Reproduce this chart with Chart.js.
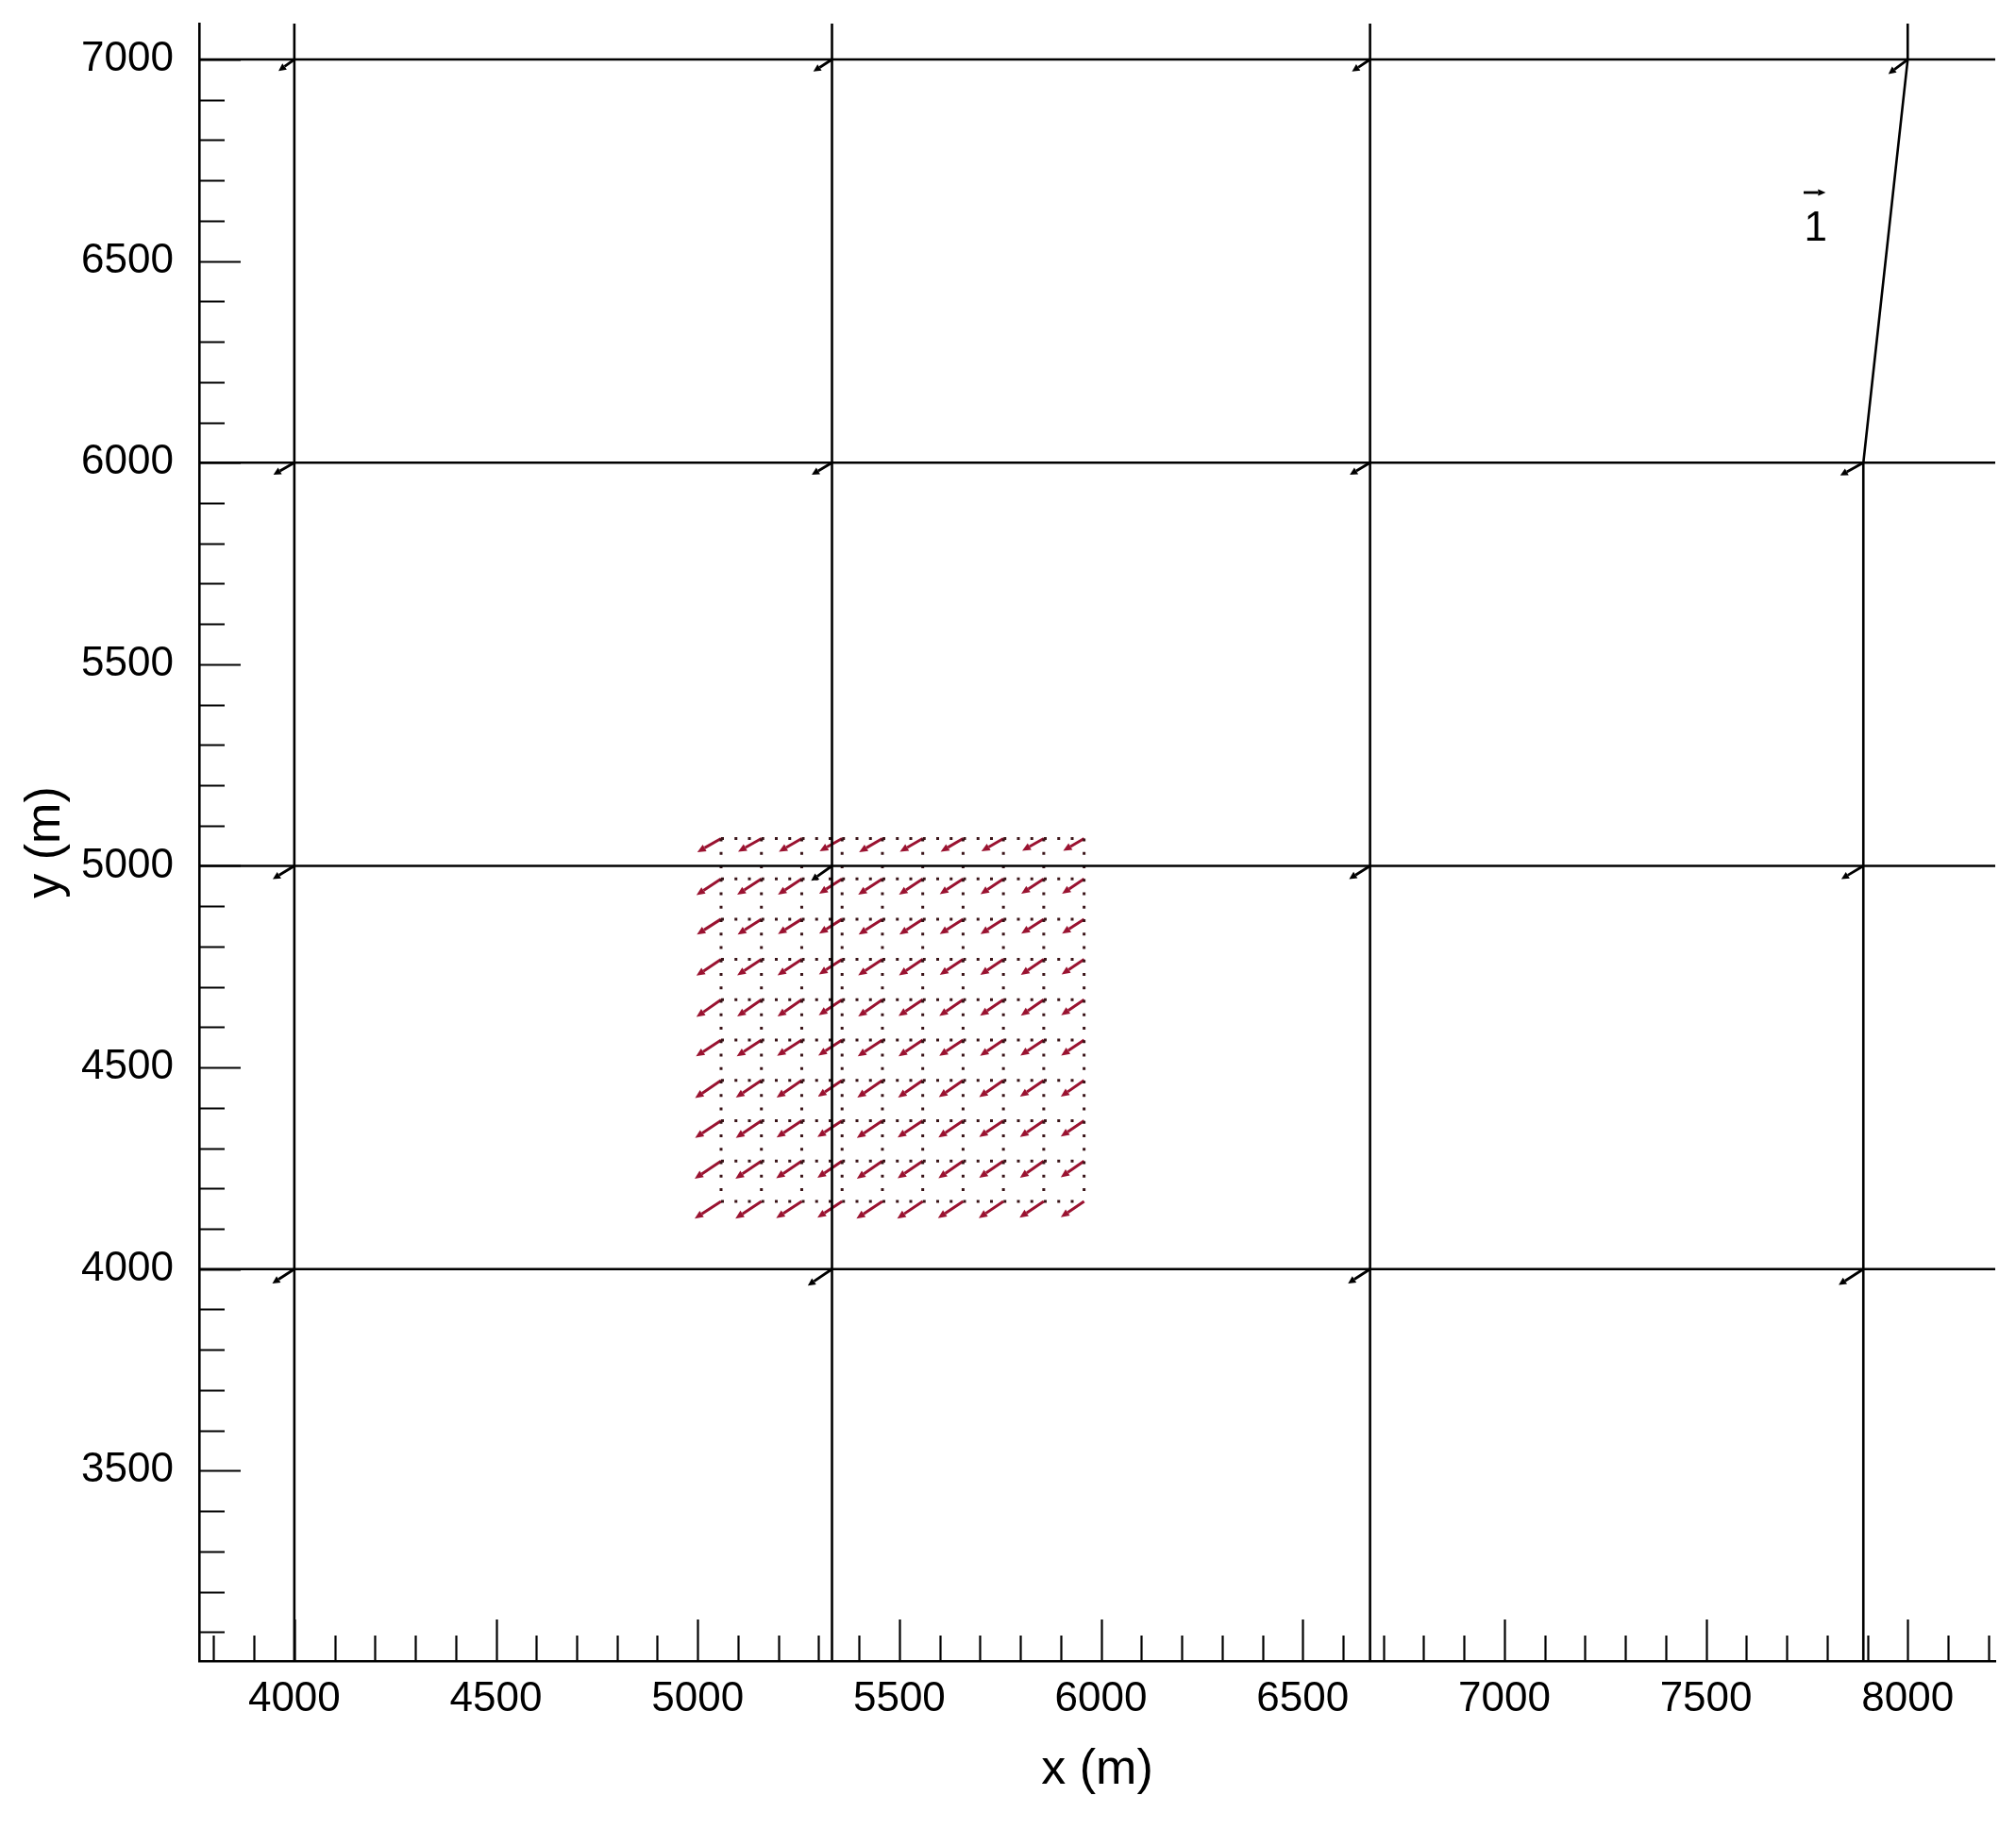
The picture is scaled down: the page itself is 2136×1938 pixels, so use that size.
<!DOCTYPE html>
<html>
<head>
<meta charset="utf-8">
<title>Velocity field</title>
<script src="https://cdn.jsdelivr.net/npm/chart.js@4.4.1/dist/chart.umd.min.js"></script>
<style>
  html, body { margin: 0; padding: 0; background: #fff; }
  #wrap { width: 2136px; height: 1938px; }
</style>
</head>
<body>
<div id="wrap"><canvas id="fieldChart" width="2136" height="1938"></canvas></div>
<script>
// axis ranges and labelled ticks
const xRange = [3764, 8217];
const yRange = [3028, 7089];
const xTickLabels = [4000, 4500, 5000, 5500, 6000, 6500, 7000, 7500, 8000];
const yTickLabels = [3500, 4000, 4500, 5000, 5500, 6000, 6500, 7000];
const minorStep = 100;

// coarse mesh
const meshLinesY = [4000, 5000, 6000, 7000];
const meshLinesX = [4000, 5333, 6667];
const edgeLineX = [7890, 7890, 8000, 8000];
const edgeLineY = [3028, 6000, 7000, 7089];

// coarse mesh nodes and their vectors
const nodeX = [4000, 5333, 6667, 8000, 4000, 5333, 6667, 7890, 4000, 5333, 6667, 7890, 4000, 5333, 6667, 7890];
const nodeY = [7000, 7000, 7000, 7000, 6000, 6000, 6000, 6000, 5000, 5000, 5000, 5000, 4000, 4000, 4000, 4000];
const nodeU = [-0.72, -0.85, -0.82, -0.88, -0.95, -0.92, -0.92, -1.05, -0.98, -0.95, -0.95, -1.00, -1.00, -1.10, -1.00, -1.12];
const nodeV = [-0.52, -0.55, -0.55, -0.66, -0.55, -0.55, -0.55, -0.58, -0.60, -0.68, -0.60, -0.60, -0.65, -0.75, -0.65, -0.72];

// fine (red) grid
const fineX = [5058, 5158, 5258, 5358, 5458, 5558, 5658, 5758, 5858, 5958];
const fineY = [5068, 4968, 4868, 4768, 4668, 4568, 4468, 4368, 4268, 4168];
const fineU = [
  [-1.08, -1.06, -1.04, -1.02, -1.06, -1.04, -1.02, -1.00, -0.98, -0.95],
  [-1.12, -1.10, -1.08, -1.04, -1.10, -1.08, -1.06, -1.04, -1.02, -1.00],
  [-1.10, -1.08, -1.08, -1.04, -1.08, -1.06, -1.06, -1.04, -1.02, -1.00],
  [-1.12, -1.10, -1.10, -1.05, -1.10, -1.08, -1.06, -1.05, -1.04, -1.02],
  [-1.12, -1.10, -1.10, -1.06, -1.10, -1.10, -1.08, -1.06, -1.04, -1.04],
  [-1.14, -1.12, -1.12, -1.08, -1.12, -1.10, -1.08, -1.06, -1.06, -1.04],
  [-1.18, -1.16, -1.14, -1.10, -1.14, -1.12, -1.10, -1.10, -1.08, -1.06],
  [-1.18, -1.16, -1.14, -1.12, -1.16, -1.14, -1.12, -1.10, -1.08, -1.06],
  [-1.20, -1.18, -1.16, -1.12, -1.16, -1.14, -1.12, -1.10, -1.08, -1.06],
  [-1.20, -1.18, -1.16, -1.12, -1.18, -1.16, -1.14, -1.12, -1.10, -1.06]
];
const fineV = [
  [-0.62, -0.60, -0.60, -0.58, -0.62, -0.60, -0.60, -0.58, -0.56, -0.56],
  [-0.74, -0.72, -0.72, -0.68, -0.72, -0.72, -0.70, -0.70, -0.68, -0.68],
  [-0.70, -0.70, -0.68, -0.66, -0.70, -0.70, -0.68, -0.68, -0.66, -0.66],
  [-0.74, -0.72, -0.72, -0.68, -0.72, -0.72, -0.70, -0.70, -0.70, -0.68],
  [-0.78, -0.76, -0.76, -0.70, -0.76, -0.74, -0.74, -0.72, -0.72, -0.70],
  [-0.74, -0.74, -0.72, -0.70, -0.74, -0.74, -0.72, -0.72, -0.70, -0.70],
  [-0.80, -0.78, -0.78, -0.74, -0.78, -0.78, -0.76, -0.76, -0.74, -0.74],
  [-0.78, -0.78, -0.76, -0.74, -0.78, -0.76, -0.76, -0.74, -0.74, -0.72],
  [-0.80, -0.80, -0.78, -0.76, -0.80, -0.78, -0.78, -0.76, -0.76, -0.74],
  [-0.78, -0.78, -0.76, -0.74, -0.78, -0.78, -0.76, -0.76, -0.74, -0.72]
];

// reference vector
const refX = [7742];
const refY = [6670];
const refU = [1];
const refV = [0];
const refLabel = "1";
const refLabelPos = [7772, 6578];
const unitLength = 54.6; // metres of arrow per unit

const FONT = "'Liberation Sans', Arial, Helvetica, sans-serif";

// build datasets
const datasets = [];

meshLinesY.forEach(v => {
    datasets.push({
        data: [{ x: xRange[0], y: v }, { x: xRange[1], y: v }],
        showLine: true, borderColor: "#000", borderWidth: 2.6, pointRadius: 0
    });
});
meshLinesX.forEach(v => {
    datasets.push({
        data: [{ x: v, y: yRange[0] }, { x: v, y: yRange[1] }],
        showLine: true, borderColor: "#000", borderWidth: 2.6, pointRadius: 0
    });
});
datasets.push({
    data: edgeLineX.map((v, i) => ({ x: v, y: edgeLineY[i] })),
    showLine: true, borderColor: "#000", borderWidth: 2.6, pointRadius: 0
});

// dotted fine mesh
fineY.forEach(v => {
    datasets.push({
        data: [{ x: fineX[0], y: v }, { x: fineX[fineX.length - 1], y: v }],
        showLine: true, borderColor: "#3a1418", borderWidth: 3,
        borderDash: [3, 11.25], pointRadius: 0, order: 5
    });
});
fineX.forEach(v => {
    datasets.push({
        data: [{ x: v, y: fineY[0] }, { x: v, y: fineY[fineY.length - 1] }],
        showLine: true, borderColor: "#3a1418", borderWidth: 3,
        borderDash: [3, 11.25], pointRadius: 0, order: 5
    });
});

// vector datasets (points hidden, arrows drawn by plugin)
const finePts = [], fineVec = [];
fineY.forEach((yv, j) => {
    fineX.forEach((xv, i) => {
        finePts.push({ x: xv, y: yv });
        fineVec.push({ u: fineU[j][i], v: fineV[j][i] });
    });
});
datasets.push({
    data: finePts, vectors: fineVec, arrowColor: "#9a1230", arrowLayer: "under",
    headLen: 9, headHalf: 4, arrowWidth: 3, pointRadius: 0
});
datasets.push({
    data: nodeX.map((v, i) => ({ x: v, y: nodeY[i] })),
    vectors: nodeU.map((u, i) => ({ u: u, v: nodeV[i] })),
    arrowColor: "#000", arrowLayer: "over", headLen: 8, headHalf: 4, arrowWidth: 2.8, pointRadius: 0
});
datasets.push({
    data: refX.map((v, i) => ({ x: v, y: refY[i] })),
    vectors: refU.map((u, i) => ({ u: u, v: refV[i] })),
    arrowColor: "#000", arrowLayer: "over", headLen: 8, headHalf: 3.5, arrowWidth: 2.8, pointRadius: 0
});

function drawArrows(chart, layer) {
    const { ctx, scales: { x, y } } = chart;
    ctx.save();
    ctx.beginPath();
    ctx.rect(chart.chartArea.left, chart.chartArea.top,
        chart.chartArea.right - chart.chartArea.left, chart.chartArea.bottom - chart.chartArea.top);
    ctx.clip();
    chart.data.datasets.forEach(ds => {
        if (!ds.vectors || ds.arrowLayer !== layer) return;
        ctx.strokeStyle = ds.arrowColor;
        ctx.fillStyle = ds.arrowColor;
        ctx.lineWidth = ds.arrowWidth;
        ds.data.forEach((p, k) => {
            const vec = ds.vectors[k];
            const x0 = x.getPixelForValue(p.x);
            const y0 = y.getPixelForValue(p.y);
            const x1 = x.getPixelForValue(p.x + vec.u * unitLength);
            const y1 = y.getPixelForValue(p.y + vec.v * unitLength);
            const ang = Math.atan2(y1 - y0, x1 - x0);
            const bx = x1 - ds.headLen * Math.cos(ang);
            const by = y1 - ds.headLen * Math.sin(ang);
            ctx.beginPath();
            ctx.moveTo(x0, y0);
            ctx.lineTo(bx, by);
            ctx.stroke();
            ctx.beginPath();
            ctx.moveTo(x1, y1);
            ctx.lineTo(bx - ds.headHalf * Math.sin(ang), by + ds.headHalf * Math.cos(ang));
            ctx.lineTo(bx + ds.headHalf * Math.sin(ang), by - ds.headHalf * Math.cos(ang));
            ctx.closePath();
            ctx.fill();
        });
    });
    ctx.restore();
}

const quiverPlugin = {
    id: "quiver",
    beforeDatasetsDraw(chart) { drawArrows(chart, "under"); },
    afterDatasetsDraw(chart) {
        drawArrows(chart, "over");
        const { ctx, scales: { x, y } } = chart;
        ctx.save();
        ctx.fillStyle = "#000";
        ctx.font = "44px " + FONT;
        ctx.textAlign = "center";
        ctx.textBaseline = "middle";
        ctx.fillText(refLabel, x.getPixelForValue(refLabelPos[0]), y.getPixelForValue(refLabelPos[1]));
        ctx.restore();
    }
};

// tick marks pointing into the plot
const innerTicksPlugin = {
    id: "innerTicks",
    afterDatasetsDraw(chart) {
        const { ctx, chartArea, scales: { x, y } } = chart;
        ctx.save();
        ctx.strokeStyle = "#000";
        ctx.lineWidth = 2.2;
        ctx.beginPath();
        for (let v = Math.ceil(xRange[0] / minorStep) * minorStep; v <= xRange[1]; v += minorStep) {
            const px = Math.round(x.getPixelForValue(v)) + 0.5;
            const len = xTickLabels.includes(v) ? 44 : 27;
            ctx.moveTo(px, chartArea.bottom);
            ctx.lineTo(px, chartArea.bottom - len);
        }
        for (let v = Math.ceil(yRange[0] / minorStep) * minorStep; v <= yRange[1]; v += minorStep) {
            const py = Math.round(y.getPixelForValue(v)) + 0.5;
            const len = yTickLabels.includes(v) ? 44 : 27;
            ctx.moveTo(chartArea.left, py);
            ctx.lineTo(chartArea.left + len, py);
        }
        ctx.stroke();
        ctx.restore();
    }
};

const ctx = document.getElementById("fieldChart").getContext("2d");

const fieldChart = new Chart(ctx, {
    type: "scatter",
    data: { datasets: datasets },
    options: {
        responsive: false,
        animation: false,
        layout: { padding: { top: 25, right: 22, left: 0, bottom: 0 } },
        plugins: {
            legend: { display: false },
            tooltip: { enabled: false }
        },
        scales: {
            x: {
                type: "linear",
                position: "bottom",
                min: xRange[0],
                max: xRange[1],
                afterBuildTicks: s => { s.ticks = xTickLabels.map(v => ({ value: v })); },
                afterFit: s => { s.height = 178; s.paddingLeft = 0; s.paddingRight = 0; },
                ticks: {
                    autoSkip: false, maxRotation: 0, padding: 14, color: "#000",
                    font: { family: FONT, size: 44 },
                    callback: v => String(v)
                },
                grid: { drawOnChartArea: false, drawTicks: false },
                border: { display: true, color: "#000", width: 2.6 },
                title: {
                    display: true, text: "x (m)", color: "#000",
                    font: { family: FONT, size: 52 },
                    padding: { top: 0, bottom: 31 }
                }
            },
            y: {
                type: "linear",
                position: "left",
                min: yRange[0],
                max: yRange[1],
                afterBuildTicks: s => { s.ticks = yTickLabels.map(v => ({ value: v })); },
                afterFit: s => { s.width = 211; s.paddingTop = 0; s.paddingBottom = 0; },
                ticks: {
                    autoSkip: false, padding: 27, color: "#000",
                    font: { family: FONT, size: 44 },
                    callback: v => String(v)
                },
                grid: { drawOnChartArea: false, drawTicks: false },
                border: { display: true, color: "#000", width: 2.6 },
                title: {
                    display: true, text: "y (m)", color: "#000",
                    font: { family: FONT, size: 52 },
                    padding: { top: 17, bottom: 0 }
                }
            }
        }
    },
    plugins: [quiverPlugin, innerTicksPlugin]
});
</script>
</body>
</html>
